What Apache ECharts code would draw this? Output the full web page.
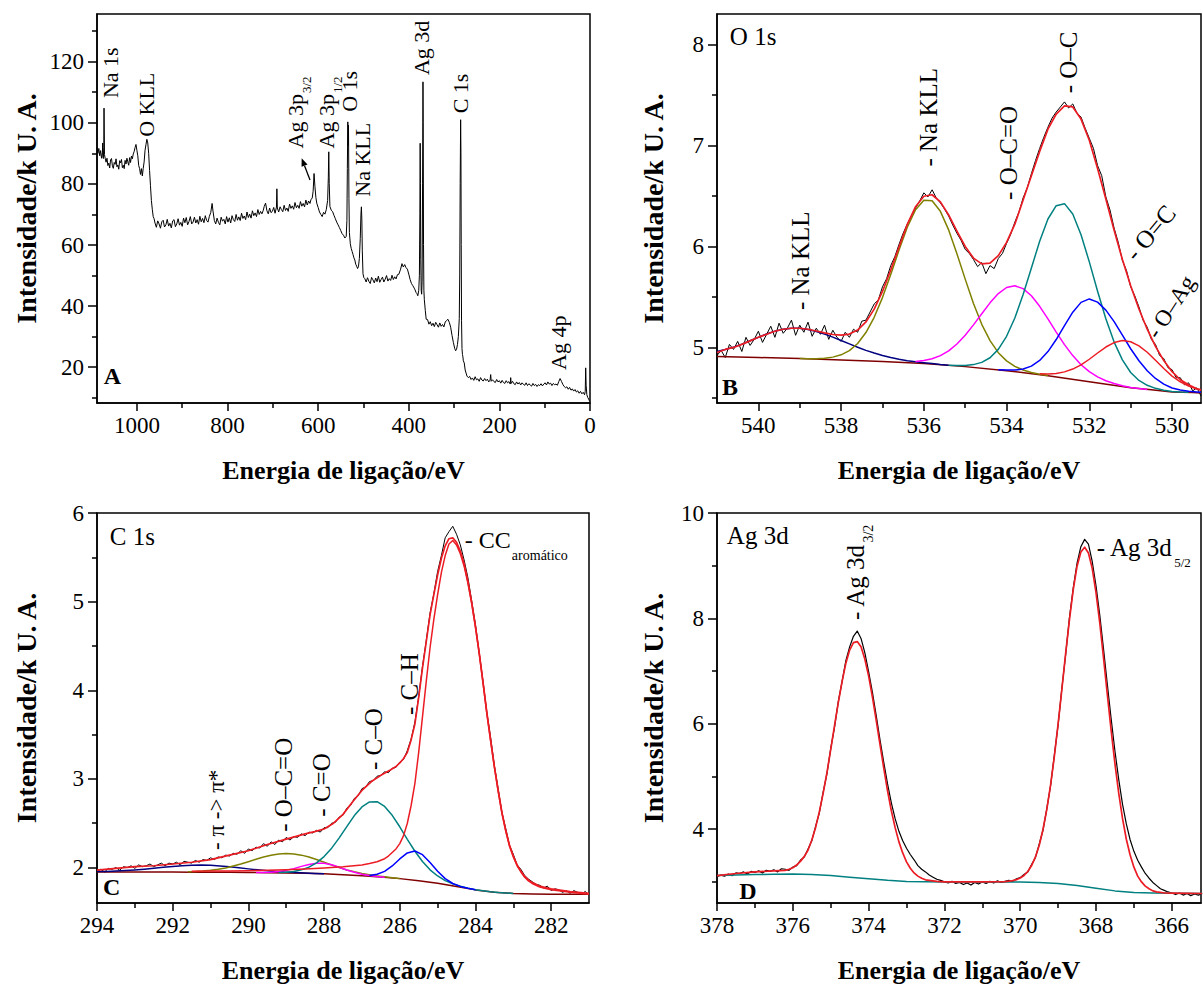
<!DOCTYPE html>
<html><head><meta charset="utf-8">
<script src="https://cdn.jsdelivr.net/npm/echarts@6.0.0/dist/echarts.min.js"></script>
<style>html,body{margin:0;padding:0;background:#fff}#c{width:1203px;height:984px}</style>
</head><body><div id="c"></div>
<script>
// ---------------- DATA ----------------
// Panel A: survey spectrum [binding energy eV, intensity k U.A.]
const surveyA = [
[1088,91.8],[1086,90.0],[1084,91.6],[1082,89.2],[1080,90.9],[1078,88.4],[1076,90.2],[1075.5,93.4],[1075,89.2],[1074,88.3],[1073,92.0],[1072.5,104.8],[1072,97.0],[1071.5,89.6],[1070,88.4],
[1068,87.1],[1066,88.4],[1064,86.0],[1062,86.8],[1060,85.2],[1058,87.9],[1056,88.3],[1054,85.9],[1052,85.1],[1050,87.0],[1048,86.4],[1046,88.2],[1044,85.6],[1042,86.2],[1040,84.8],[1038,87.6],[1036,86.9],[1034,88.0],[1032,85.3],[1030,86.1],[1028,85.0],[1026,87.7],[1024,86.5],[1022,88.4],[1020,87.2],[1018,86.1],[1016,88.6],[1014,87.0],[1012,89.1],[1010,88.2],[1008,89.8],
[1006,90.6],[1004,91.9],[1002,92.9],[1000,91.0],[998,89.2],[996,86.0],[994,85.0],[992,83.1],[990,85.0],[988,82.6],[986,85.1],[984,87.2],[982,91.0],[980,92.8],[978,94.6],[976,93.4],[974,90.0],[972,84.4],[970,79.4],[968,74.6],[966,71.7],[964,69.3],[962,68.6],
[960,67.2],[957,65.8],[954,67.9],[951,66.9],[948,65.5],[945,67.6],[942,68.1],[939,65.9],[936,66.6],[933,68.4],[930,66.2],[927,67.1],[924,65.6],[921,67.9],[918,68.3],[915,66.0],[912,66.9],[909,68.6],[906,66.5],[903,67.4],[900,66.1],[897,68.8],[894,67.3],[891,69.0],[888,66.6],[885,67.7],[882,69.3],[879,66.9],[876,67.5],[873,69.1],[870,67.2],[867,68.3],[864,66.8],[861,69.4],[858,67.6],[855,68.7],[852,67.3],[849,69.6],[846,68.0],[843,67.5],[840,69.4],[837,70.6],[834,73.6],[832,71.1],[829,68.0],
[826,66.9],[823,68.8],[820,67.4],[817,66.6],[814,69.1],[811,67.8],[808,68.4],[805,66.9],[802,69.3],[799,67.5],[796,68.9],[793,67.2],[790,69.6],[787,68.3],[784,67.7],[781,70.0],[778,68.1],[775,69.2],[772,68.0],[769,70.4],[766,68.7],[763,69.5],[760,68.3],[757,70.8],[754,69.0],[751,70.1],[748,68.8],[745,71.2],[742,69.6],[739,70.5],[736,69.3],[733,71.6],[730,70.0],[727,71.0],[724,70.2],[721,71.4],[719,72.6],[716,73.7],[713,71.2],[710,70.2],[707,72.1],[704,70.6],[701,71.0],[698,72.3],[695,70.4],[692,72.4],[691,78.4],[690,72.1],[687,70.8],[684,72.5],[681,71.6],[678,70.9],[675,73.0],[672,71.3],[669,72.1],[666,71.0],[663,73.4],[660,72.0],[657,72.8],[654,71.7],[651,73.9],[648,72.2],[645,73.0],[642,72.0],[639,74.2],[636,72.7],[633,73.6],[630,72.5],[627,74.7],[624,73.1],[621,74.4],[618,73.6],[616,74.8],[613,75.4],
[611,77.6],[609,83.4],[607,79.1],[605,75.6],[603,73.7],[600,72.3],[597,70.8],[594,70.0],[591,69.3],[588,70.7],[585,70.1],[582,71.6],[579,74.6],[577.5,82.0],[576.5,90.5],[575.5,80.1],[574,72.6],[571,71.4],[568,70.9],[565,69.7],[562,68.6],[559,67.5],[556,66.6],[553,65.7],[550,64.7],[547,63.7],[544,63.2],[541,62.3],[538,62.8],[536.5,68.0],[535.5,85.0],[534.5,100.3],[533.8,92.5],[533,99.2],[532,75.2],[531,64.1],[529,60.4],[527,58.9],[525,57.9],[523,56.9],[521,55.8],[519,55.1],[517,53.7],[515,53.1],[513,52.3],[511,52.9],[509,55.6],[507,62.1],[505.5,70.1],[504.5,72.5],[503.5,68.2],[502.5,58.1],[501,50.6],[499,49.3],[497,49.0],
[494,47.9],[491,49.3],[488,48.1],[485,47.4],[482,49.4],[479,48.6],[476,47.6],[473,49.2],[470,48.0],[467,49.8],[464,47.8],[461,48.7],[458,49.5],[455,47.9],[452,48.8],[449,50.0],[446,48.2],[443,49.0],[440,48.4],[437,50.1],[434,48.7],[431,49.6],[428,48.9],[425,50.3],[422,50.4],
[418,52.1],[415,53.9],[412,52.8],[409,53.6],[406,52.6],[403,52.1],[400,50.5],[397,48.7],[394,47.4],[391,46.7],[388,45.9],[386,45.3],[384,44.5],[382,44.1],[380,43.4],[378,45.1],[376.5,50.1],[375.5,70.2],[374.8,93.3],[374.2,80.1],[373.5,55.2],[372.5,45.1],[371.5,43.9],[370.5,48.1],[369.5,80.0],[368.6,113.4],[368.1,100.2],[367.4,60.1],[366.6,45.2],[365.6,42.1],[363.5,38.6],[361.5,35.7],
[358.5,35.6],[355.5,34.1],[352.5,34.9],[349.5,33.6],[346.5,34.4],[343.5,33.3],[340.5,34.7],[337.5,33.9],[334.5,33.1],[331.5,34.5],[328.5,33.4],[325.5,34.0],[322.5,33.2],[319.5,34.8],[316.5,35.3],[313.5,35.7],
[310.5,34.7],[307.5,33.1],[304.5,30.4],[301.5,28.1],[298.5,26.1],[296.5,25.4],[294.5,25.9],[292.5,27.4],[290.5,30.1],[288.5,35.9],[287.5,50.2],[286.5,80.1],[285.5,101.0],[284.8,90.2],[284.2,60.1],[283.5,35.2],[282.5,26.1],[281.5,24.2],[280.5,23.4],[279.5,22.1],[277.5,21.4],[275.5,19.1],[273.5,18.1],[271.5,17.1],
[268.5,16.6],[265.5,17.0],[262.5,16.0],[259.5,16.5],[256.5,15.7],[253.5,16.9],[250.5,15.9],[247.5,16.2],[244.5,15.4],[241.5,16.6],[238.5,15.8],[235.5,15.5],[232.5,16.3],[229.5,15.6],[226.5,16.1],[223.5,15.2],[220.5,15.8],[219.2,17.6],[218,15.4],[215,15.9],[212,15.3],[209,15.0],[206,16.0],[203,15.2],[200,15.6],[197,14.8],[194,15.7],[191,15.0],[188,14.7],[185,15.6],[182,14.9],[179,15.3],[176,14.5],[175,16.6],[174,14.7],[171,15.4],[168,14.6],[165,14.3],[162,15.2],[159,14.5],[156,15.0],[153,14.2],[150,14.9],[147,14.4],[144,14.1],[141,14.9],[138,14.0],[135,14.6],[132,14.2],[129,13.8],[126,14.7],[123,14.0],[120,14.4],[117,13.7],[114,14.3],[111,14.0],[108,14.6],[105,13.9],[102,14.5],[99,14.9],[96,14.2],[93,15.2],[90,14.5],[87,14.8],[84,14.0],[81,14.7],[78,14.3],[75,14.5],[72,14.1],[69,15.3],[66,16.3],[63,15.4],[60,14.4],[57,13.7],[54,13.3],[51,13.6],[48,12.8],[45,13.4],[42,12.5],[39,12.9],[36,12.2],[33,12.7],[30,11.9],[27,12.3],[24,11.5],[21,12.1],[18,11.3],[15,11.8],[12,11.0],[10.5,12.1],[9.5,19.8],[8.5,14.1],[7,11.0],[5,10.1],[3,9.6],[1.5,9.1],[0,8.8]
];

// Panel B: O 1s
const o1sData = [[541.0,4.92],[540.9,4.97],[540.8,4.90],[540.7,5.03],[540.6,4.98],[540.5,5.06],[540.4,4.96],[540.3,5.10],[540.2,5.02],[540.1,5.08],[540.0,5.16],[539.9,5.05],[539.8,5.13],[539.7,5.21],[539.6,5.10],[539.5,5.24],[539.4,5.14],[539.3,5.19],[539.2,5.27],[539.1,5.12],[539.0,5.22],[538.9,5.15],[538.8,5.25],[538.7,5.11],[538.6,5.19],[538.5,5.13],[538.4,5.22],[538.3,5.08],[538.2,5.17],[538.1,5.10],[538.0,5.06],[537.9,5.15],[537.8,5.10],[537.7,5.18],[537.6,5.15],[537.5,5.26],[537.4,5.27],[537.3,5.35],[537.2,5.43],[537.1,5.47],[537.0,5.60],[536.9,5.68],[536.8,5.81],[536.7,5.90],[536.6,6.02],[536.5,6.13],[536.4,6.22],[536.3,6.30],[536.2,6.38],[536.1,6.45],[536.0,6.53],[535.9,6.49],[535.8,6.56],[535.7,6.48],[535.6,6.43],[535.5,6.37],[535.4,6.30],[535.3,6.21],[535.2,6.13],[535.1,6.06],[535.0,5.97],[534.9,5.93],[534.8,5.87],[534.7,5.80],[534.6,5.84],[534.5,5.73],[534.4,5.81],[534.3,5.78],[534.2,5.88],[534.1,5.93],[534.0,6.03],[533.9,6.12],[533.8,6.24],[533.7,6.34],[533.6,6.48],[533.5,6.58],[533.4,6.72],[533.3,6.85],[533.2,6.97],[533.1,7.08],[533.0,7.18],[532.9,7.27],[532.8,7.33],[532.7,7.38],[532.6,7.43],[532.5,7.37],[532.4,7.41],[532.3,7.32],[532.2,7.28],[532.1,7.17],[532.0,7.07],[531.9,6.97],[531.8,6.80],[531.7,6.70],[531.6,6.49],[531.5,6.36],[531.4,6.18],[531.3,6.04],[531.2,5.86],[531.1,5.76],[531.0,5.60],[530.9,5.51],[530.8,5.40],[530.7,5.27],[530.6,5.20],[530.5,5.08],[530.4,5.03],[530.3,4.92],[530.2,4.89],[530.1,4.80],[530.0,4.78],[529.9,4.70],[529.8,4.70],[529.7,4.63],[529.6,4.65],[529.5,4.57],[529.4,4.60],[529.3,4.52]];
const o1sEnvelope = [[541.0,4.95],[540.8,4.98],[540.6,5.00],[540.4,5.03],[540.2,5.065],[540.0,5.10],[539.8,5.13],[539.6,5.16],[539.4,5.18],[539.2,5.19],[539.0,5.19],[538.8,5.18],[538.6,5.163],[538.4,5.144],[538.2,5.128],[538.0,5.121],[537.8,5.132],[537.6,5.172],[537.4,5.252],[537.2,5.379],[537.0,5.554],[536.8,5.766],[536.6,5.994],[536.4,6.218],[536.2,6.393],[536.0,6.496],[535.8,6.511],[535.6,6.441],[535.4,6.311],[535.2,6.152],[535.0,6.000],[534.8,5.884],[534.6,5.827],[534.4,5.834],[534.2,5.908],[534.0,6.04],[533.8,6.22],[533.6,6.46],[533.4,6.70],[533.2,6.94],[533.0,7.16],[532.8,7.31],[532.6,7.39],[532.4,7.38],[532.2,7.26],[532.0,7.05],[531.8,6.77],[531.6,6.47],[531.4,6.16],[531.2,5.87],[531.0,5.61],[530.8,5.38],[530.6,5.18],[530.4,5.01],[530.2,4.87],[530.0,4.76],[529.8,4.68],[529.6,4.63],[529.4,4.59],[529.3,4.58]];
const o1sBackground = [[541,4.91],[540,4.90],[539,4.89],[538,4.875],[537,4.86],[536,4.84],[535,4.81],[534,4.77],[533,4.72],[532,4.66],[531,4.60],[530.5,4.58],[530,4.56],[529.5,4.555],[529.3,4.55]];
const o1sNaKLLsat = [[541.0,4.959],[540.8,4.979],[540.6,5.003],[540.4,5.033],[540.2,5.066],[540.0,5.100],[539.8,5.133],[539.6,5.161],[539.4,5.181],[539.2,5.190],[539.0,5.189],[538.8,5.177],[538.6,5.158],[538.4,5.132],[538.2,5.102],[538.0,5.069],[537.8,5.035],[537.6,5.002],[537.4,4.971],[537.2,4.944],[537.0,4.921],[536.8,4.900],[536.6,4.883],[536.4,4.869],[536.2,4.858],[536.0,4.849],[535.8,4.840],[535.6,4.831],[535.4,4.824]];
const o1sNaKLL = [[539.0,4.891],[538.8,4.889],[538.6,4.889],[538.4,4.893],[538.2,4.904],[538.0,4.927],[537.8,4.969],[537.6,5.039],[537.4,5.147],[537.2,5.298],[537.0,5.493],[536.8,5.722],[536.6,5.963],[536.4,6.189],[536.2,6.363],[536.0,6.457],[535.8,6.451],[535.6,6.347],[535.4,6.163],[535.2,5.927],[535.0,5.676],[534.8,5.435],[534.6,5.229],[534.4,5.067],[534.2,4.948],[534.0,4.867],[533.8,4.812],[533.6,4.776],[533.4,4.752],[533.2,4.735],[533.0,4.722]];
const o1sOCO = [[536.2,4.860],[536.0,4.870],[535.8,4.888],[535.6,4.919],[535.4,4.966],[535.2,5.034],[535.0,5.121],[534.8,5.223],[534.6,5.334],[534.4,5.441],[534.2,5.533],[534.0,5.593],[533.8,5.610],[533.6,5.582],[533.4,5.511],[533.2,5.407],[533.0,5.283],[532.8,5.152],[532.6,5.028],[532.4,4.919],[532.2,4.829],[532.0,4.760],[531.8,4.708],[531.6,4.670],[531.4,4.643],[531.2,4.621],[531.0,4.604],[530.8,4.594],[530.6,4.584]];
const o1sOC = [[535.4,4.824],[535.2,4.821],[535.0,4.822],[534.8,4.830],[534.6,4.852],[534.4,4.898],[534.2,4.981],[534.0,5.110],[533.8,5.291],[533.6,5.523],[533.4,5.787],[533.2,6.050],[533.0,6.271],[532.8,6.403],[532.6,6.423],[532.4,6.320],[532.2,6.116],[532.0,5.847],[531.8,5.556],[531.6,5.283],[531.4,5.053],[531.2,4.877],[531.0,4.752],[530.8,4.673],[530.6,4.625],[530.4,4.595],[530.2,4.576],[530.0,4.563],[529.8,4.558],[529.6,4.556]];
const o1sOdC = [[534.2,4.780],[534.0,4.777],[533.8,4.776],[533.6,4.787],[533.4,4.815],[533.2,4.871],[533.0,4.959],[532.8,5.078],[532.6,5.216],[532.4,5.349],[532.2,5.446],[532.0,5.480],[531.8,5.448],[531.6,5.369],[531.4,5.255],[531.2,5.122],[531.0,4.987],[530.8,4.868],[530.6,4.769],[530.4,4.693],[530.2,4.637],[530.0,4.598],[529.8,4.578],[529.6,4.566],[529.4,4.559],[529.3,4.556]];
const o1sOAg = [[533.2,4.739],[533.0,4.738],[532.8,4.743],[532.6,4.758],[532.4,4.786],[532.2,4.828],[532.0,4.883],[531.8,4.945],[531.6,5.004],[531.4,5.048],[531.2,5.068],[531.0,5.056],[530.8,5.016],[530.6,4.952],[530.4,4.873],[530.2,4.791],[530.0,4.716],[529.8,4.660],[529.6,4.618],[529.4,4.589],[529.3,4.578]];

// Panel C: C 1s
const c1sData = [[294.0,1.96],[293.9,1.98],[293.8,1.95],[293.7,1.99],[293.6,1.98],[293.5,2.00],[293.4,1.97],[293.3,2.01],[293.2,2.00],[293.1,2.02],[293.0,1.99],[292.9,2.03],[292.8,2.01],[292.7,2.02],[292.6,2.04],[292.5,2.01],[292.4,2.03],[292.3,2.05],[292.2,2.02],[292.1,2.05],[292.0,2.04],[291.9,2.06],[291.8,2.03],[291.7,2.07],[291.6,2.06],[291.5,2.05],[291.4,2.08],[291.3,2.06],[291.2,2.09],[291.1,2.08],[291.0,2.11],[290.9,2.09],[290.8,2.12],[290.7,2.11],[290.6,2.14],[290.5,2.13],[290.4,2.16],[290.3,2.15],[290.2,2.19],[290.1,2.16],[290.0,2.21],[289.9,2.19],[289.8,2.23],[289.7,2.22],[289.6,2.27],[289.5,2.24],[289.4,2.29],[289.3,2.26],[289.2,2.31],[289.1,2.29],[289.0,2.34],[288.9,2.31],[288.8,2.35],[288.7,2.34],[288.6,2.38],[288.5,2.36],[288.4,2.40],[288.3,2.39],[288.2,2.42],[288.1,2.40],[288.0,2.45],[287.9,2.45],[287.8,2.50],[287.7,2.51],[287.6,2.57],[287.5,2.59],[287.4,2.67],[287.3,2.70],[287.2,2.78],[287.1,2.81],[287.0,2.89],[286.9,2.91],[286.8,2.97],[286.7,2.98],[286.6,3.03],[286.5,3.04],[286.4,3.08],[286.3,3.07],[286.2,3.12],[286.1,3.13],[286.0,3.19],[285.9,3.22],[285.8,3.32],[285.7,3.45],[285.6,3.64],[285.5,3.93],[285.4,4.27],[285.3,4.56],[285.2,4.87],[285.1,5.09],[285.0,5.34],[284.9,5.52],[284.8,5.72],[284.7,5.79],[284.6,5.85],[284.5,5.76],[284.4,5.64],[284.3,5.47],[284.2,5.27],[284.1,5.01],[284.0,4.74],[283.9,4.42],[283.8,4.10],[283.7,3.75],[283.6,3.47],[283.5,3.15],[283.4,2.89],[283.3,2.62],[283.2,2.44],[283.1,2.25],[283.0,2.15],[282.9,2.03],[282.8,1.98],[282.7,1.91],[282.6,1.87],[282.5,1.84],[282.4,1.81],[282.3,1.80],[282.2,1.77],[282.1,1.79],[282.0,1.74],[281.9,1.76],[281.8,1.75],[281.7,1.72],[281.6,1.74],[281.5,1.71],[281.4,1.74],[281.3,1.72],[281.2,1.70],[281.1,1.73],[281.0,1.69]];
const c1sEnvelope = [[294.0,1.97],[293.5,1.99],[293.0,2.01],[292.5,2.02],[292.0,2.04],[291.5,2.06],[291.0,2.09],[290.5,2.14],[290.0,2.19],[289.5,2.26],[289.0,2.32],[288.5,2.38],[288.25,2.405],[288.0,2.435],[287.75,2.50],[287.5,2.60],[287.25,2.74],[287.0,2.87],[286.75,2.97],[286.5,3.04],[286.25,3.10],[286.1,3.14],[286.0,3.18],[285.9,3.23],[285.8,3.30],[285.7,3.44],[285.6,3.62],[285.5,3.92],[285.4,4.25],[285.3,4.55],[285.2,4.85],[285.1,5.08],[285.0,5.30],[284.9,5.49],[284.8,5.63],[284.7,5.71],[284.6,5.72],[284.5,5.67],[284.4,5.57],[284.3,5.43],[284.2,5.23],[284.1,4.99],[284.0,4.72],[283.9,4.42],[283.8,4.09],[283.7,3.75],[283.6,3.44],[283.5,3.14],[283.4,2.87],[283.3,2.62],[283.2,2.42],[283.1,2.25],[283.0,2.13],[282.9,2.03],[282.8,1.96],[282.7,1.90],[282.6,1.86],[282.5,1.83],[282.4,1.81],[282.3,1.79],[282.2,1.78],[282.0,1.76],[281.5,1.73],[281.0,1.71]];
const c1sBackground = [[294,1.950],[293.5,1.950],[293,1.950],[292.5,1.950],[292,1.949],[291.5,1.948],[291,1.947],[290.5,1.946],[290,1.944],[289.5,1.942],[289,1.939],[288.5,1.935],[288,1.929],[287.5,1.920],[287,1.908],[286.5,1.893],[286,1.875],[285.5,1.852],[285,1.822],[284.5,1.785],[284,1.748],[283.5,1.722],[283,1.708],[282.5,1.702],[282,1.700],[281,1.700]];
const c1sPiPi = [[294.0,1.954],[293.75,1.956],[293.5,1.960],[293.25,1.966],[293.0,1.973],[292.75,1.982],[292.5,1.993],[292.25,2.003],[292.0,2.013],[291.75,2.021],[291.5,2.026],[291.25,2.028],[291.0,2.025],[290.75,2.018],[290.5,2.009],[290.25,1.997],[290.0,1.985],[289.75,1.974],[289.5,1.964],[289.25,1.955],[289.0,1.948],[288.75,1.943],[288.5,1.938],[288.25,1.934],[288.0,1.930]];
const c1sOCO = [[291.6,1.953],[291.4,1.956],[291.2,1.961],[291.0,1.969],[290.8,1.981],[290.6,1.996],[290.4,2.017],[290.2,2.040],[290.0,2.066],[289.8,2.093],[289.6,2.118],[289.4,2.139],[289.2,2.154],[289.0,2.159],[288.8,2.153],[288.6,2.140],[288.4,2.118],[288.2,2.090],[288.0,2.059],[287.8,2.029],[287.6,2.000],[287.4,1.973],[287.2,1.952],[287.0,1.933],[286.8,1.918],[286.6,1.906],[286.4,1.895],[286.2,1.885],[286.0,1.877]];
const c1sCdO = [[289.8,1.944],[289.6,1.945],[289.4,1.948],[289.2,1.955],[289.0,1.969],[288.8,1.988],[288.6,2.013],[288.4,2.035],[288.2,2.049],[288.0,2.048],[287.8,2.031],[287.6,2.004],[287.4,1.973],[287.2,1.946],[287.0,1.925],[286.8,1.910],[286.6,1.899],[286.4,1.890]];
const c1sCO = [[289.2,1.944],[289.0,1.948],[288.8,1.956],[288.6,1.974],[288.4,2.004],[288.2,2.053],[288.0,2.124],[287.8,2.219],[287.6,2.335],[287.4,2.462],[287.2,2.586],[287.0,2.684],[286.8,2.740],[286.6,2.743],[286.4,2.689],[286.2,2.589],[286.0,2.460],[285.8,2.318],[285.6,2.184],[285.4,2.068],[285.2,1.974],[285.0,1.905],[284.8,1.853],[284.6,1.816],[284.4,1.790],[284.2,1.768],[284.0,1.750],[283.8,1.738],[283.6,1.727],[283.4,1.719],[283.2,1.713],[283.0,1.708]];
const c1sCH = [[286.8,1.911],[286.6,1.924],[286.4,1.957],[286.2,2.018],[286.0,2.097],[285.8,2.165],[285.6,2.187],[285.4,2.145],[285.2,2.056],[285.0,1.958],[284.8,1.875],[284.6,1.820],[284.4,1.787],[284.2,1.766],[284.0,1.749]];
const c1sCC = [[291.5,1.958],[291.0,1.960],[290.5,1.962],[290.0,1.965],[289.5,1.969],[289.0,1.975],[288.5,1.984],[288.0,1.995],[287.5,2.010],[287.0,2.030],[286.8,2.045],[286.6,2.065],[286.4,2.10],[286.3,2.13],[286.2,2.17],[286.1,2.21],[286.0,2.27],[285.9,2.36],[285.8,2.50],[285.7,2.70],[285.6,2.95],[285.5,3.30],[285.4,3.70],[285.3,4.10],[285.2,4.48],[285.1,4.80],[285.0,5.08],[284.9,5.33],[284.8,5.52],[284.7,5.65],[284.6,5.69],[284.5,5.64],[284.4,5.54],[284.3,5.40],[284.2,5.21],[284.1,4.98],[284.0,4.71],[283.9,4.41],[283.8,4.08],[283.7,3.74],[283.6,3.43],[283.5,3.13],[283.4,2.86],[283.3,2.61],[283.2,2.41],[283.1,2.24],[283.0,2.12],[282.9,2.02],[282.8,1.95],[282.7,1.89],[282.6,1.85],[282.5,1.82],[282.4,1.80],[282.3,1.78],[282.2,1.77],[282.0,1.75],[281.5,1.72],[281.0,1.70]];

// Panel D: Ag 3d
const ag3dData = [[378.0,3.10],[377.9,3.13],[377.8,3.11],[377.7,3.15],[377.6,3.12],[377.5,3.17],[377.4,3.16],[377.3,3.19],[377.2,3.15],[377.1,3.20],[377.0,3.18],[376.9,3.21],[376.8,3.17],[376.7,3.22],[376.6,3.20],[376.5,3.23],[376.4,3.19],[376.3,3.25],[376.2,3.24],[376.1,3.22],[376.0,3.28],[375.9,3.31],[375.8,3.41],[375.7,3.47],[375.6,3.62],[375.5,3.78],[375.4,4.05],[375.3,4.31],[375.2,4.70],[375.1,5.05],[375.0,5.53],[374.9,5.93],[374.8,6.42],[374.7,6.80],[374.6,7.20],[374.5,7.46],[374.4,7.66],[374.3,7.76],[374.2,7.62],[374.1,7.35],[374.0,6.99],[373.9,6.60],[373.8,6.16],[373.7,5.70],[373.6,5.27],[373.5,4.86],[373.4,4.50],[373.3,4.20],[373.2,3.96],[373.1,3.78],[373.0,3.64],[372.9,3.52],[372.8,3.42],[372.7,3.31],[372.6,3.24],[372.5,3.19],[372.4,3.13],[372.3,3.09],[372.2,3.05],[372.1,3.03],[372.0,3.00],[371.9,2.98],[371.8,3.01],[371.7,2.97],[371.6,2.99],[371.5,2.95],[371.4,2.98],[371.3,2.94],[371.2,2.99],[371.1,2.96],[371.0,3.00],[370.9,2.97],[370.8,3.01],[370.7,2.98],[370.6,3.02],[370.5,2.99],[370.4,3.01],[370.3,3.03],[370.2,3.01],[370.1,3.06],[370.0,3.08],[369.9,3.14],[369.8,3.19],[369.7,3.33],[369.6,3.46],[369.5,3.71],[369.4,3.98],[369.3,4.38],[369.2,4.82],[369.1,5.40],[369.0,5.98],[368.9,6.68],[368.8,7.32],[368.7,8.02],[368.6,8.58],[368.5,9.05],[368.4,9.36],[368.3,9.50],[368.2,9.41],[368.1,9.08],[368.0,8.62],[367.9,8.06],[367.8,7.41],[367.7,6.74],[367.6,6.09],[367.5,5.48],[367.4,4.94],[367.3,4.47],[367.2,4.10],[367.1,3.80],[367.0,3.58],[366.9,3.41],[366.8,3.28],[366.7,3.16],[366.6,3.07],[366.5,2.99],[366.4,2.93],[366.3,2.87],[366.2,2.84],[366.1,2.81],[366.0,2.79],[365.9,2.76],[365.8,2.79],[365.7,2.75],[365.6,2.78],[365.5,2.74],[365.4,2.77],[365.3,2.75],[365.2,2.78]];
const ag3dEnvelope = [[378.0,3.12],[377.5,3.16],[377.0,3.19],[376.5,3.21],[376.2,3.22],[376.1,3.24],[376.0,3.27],[375.9,3.32],[375.8,3.39],[375.7,3.48],[375.6,3.60],[375.5,3.79],[375.4,4.03],[375.3,4.33],[375.2,4.68],[375.1,5.07],[375.0,5.51],[374.9,5.96],[374.8,6.40],[374.7,6.80],[374.6,7.15],[374.5,7.40],[374.4,7.54],[374.3,7.56],[374.2,7.46],[374.1,7.23],[374.0,6.91],[373.9,6.51],[373.8,6.07],[373.7,5.61],[373.6,5.16],[373.5,4.73],[373.4,4.35],[373.3,4.03],[373.2,3.76],[373.1,3.55],[373.0,3.38],[372.9,3.26],[372.8,3.17],[372.7,3.11],[372.6,3.07],[372.5,3.04],[372.4,3.03],[372.2,3.01],[372.0,3.00],[371.0,3.00],[370.4,3.007],[370.3,3.014],[370.2,3.025],[370.1,3.044],[370.0,3.075],[369.9,3.123],[369.8,3.198],[369.7,3.31],[369.6,3.47],[369.5,3.69],[369.4,3.99],[369.3,4.37],[369.2,4.83],[369.1,5.38],[369.0,6.00],[368.9,6.66],[368.8,7.34],[368.7,7.98],[368.6,8.55],[368.5,8.99],[368.4,9.26],[368.3,9.35],[368.2,9.24],[368.1,8.95],[368.0,8.49],[367.9,7.91],[367.8,7.24],[367.7,6.55],[367.6,5.87],[367.5,5.24],[367.4,4.68],[367.3,4.20],[367.2,3.81],[367.1,3.51],[367.0,3.28],[366.9,3.11],[366.8,3.00],[366.7,2.92],[366.6,2.87],[366.5,2.83],[366.4,2.81],[366.3,2.80],[366.2,2.79],[366.0,2.786],[365.5,2.782],[365.2,2.78]];
const ag3dBackground = [[378,3.12],[377.5,3.13],[377,3.14],[376.5,3.145],[376,3.15],[375.5,3.14],[375,3.12],[374.5,3.09],[374,3.06],[373.5,3.03],[373,3.01],[372.5,3.003],[372,3.0],[370,3.0],[369.5,2.99],[369,2.97],[368.5,2.93],[368,2.88],[367.5,2.83],[367,2.80],[366.5,2.79],[366,2.785],[365.2,2.78]];

// Axis extents and tick values
const xRange = [[0,1088],[529.3,541],[281,294],[365.23,378]];
const yRange = [[8.3,135.6],[4.45,8.3],[1.6,6.0],[2.6,10.0]];
const xMajor = [[1000,800,600,400,200,0],[540,538,536,534,532,530],[294,292,290,288,286,284,282],[378,376,374,372,370,368,366]];
const xMinor = [[900,700,500,300,100],[539,537,535,533,531],[293,291,289,287,285,283],[377,375,373,371,369,367]];
const yMajor = [[20,40,60,80,100,120],[5,6,7,8],[2,3,4,5,6],[4,6,8,10]];
const yMinor = [[10,30,50,70,90,110,130],[4.5,5.5,6.5,7.5],[2.5,3.5,4.5,5.5],[3,5,7,9]];
const xTitle = 'Energia de ligação/eV';
const yTitle = 'Intensidade/k U. A.';

// Peak labels (anchored in data coordinates)
const notes = [
 {p:0,t:'Na 1s',x:1059,y:108.1,r:90,s:22},
 {p:0,t:'O KLL',x:978,y:95.4,r:90,s:22},
 {p:0,t:'Ag 3p',sub:'3/2',x:647,y:91.6,r:90,s:22,ss:13,off:10},
 {p:0,t:'Ag 3p',sub:'1/2',x:580,y:91.6,r:90,s:22,ss:13,off:10},
 {p:0,t:'O 1s',x:530,y:103.6,r:90,s:22},
 {p:0,t:'Na KLL',x:502,y:75.8,r:90,s:22},
 {p:0,t:'Ag 3d',x:371,y:115.6,r:90,s:22},
 {p:0,t:'C 1s',x:285,y:103.1,r:90,s:22},
 {p:0,t:'Ag 4p',x:70,y:19.1,r:90,s:22},
 {p:0,t:'A',x:1073,y:17.1,r:0,s:24,b:true},
 {p:1,t:'O 1s',x:540.69,y:8.075,r:0,s:25},
 {p:1,t:'- Na KLL',x:538.99,y:5.37,r:90,s:25},
 {p:1,t:'- Na KLL',x:535.89,y:6.79,r:90,s:25},
 {p:1,t:'- O–C=O',x:533.96,y:6.46,r:90,s:25},
 {p:1,t:'- O–C',x:532.51,y:7.515,r:90,s:25},
 {p:1,t:'- O=C',x:531.02,y:5.895,r:50,s:25},
 {p:1,t:'- O–Ag',x:530.50,y:5.113,r:57,s:23},
 {p:1,t:'B',x:540.88,y:4.613,r:0,s:24,b:true},
 {p:2,t:'C 1s',x:293.66,y:5.74,r:0,s:25},
 {p:2,t:'- π -> π*',x:290.84,y:2.198,r:90,s:23},
 {p:2,t:'- O–C=O',x:289.08,y:2.404,r:90,s:25},
 {p:2,t:'- C=O',x:288.06,y:2.574,r:90,s:25},
 {p:2,t:'- C–O',x:286.70,y:3.10,r:90,s:25},
 {p:2,t:'- C–H',x:285.73,y:3.721,r:90,s:25},
 {p:2,t:'- CC',sub:'aromático',x:284.28,y:5.684,r:0,s:24,ss:14,off:14},
 {p:2,t:'C',x:293.84,y:1.786,r:0,s:24,b:true},
 {p:3,t:'Ag 3d',x:377.74,y:9.564,r:0,s:25},
 {p:3,t:'- Ag 3d',sub:'3/2',x:374.31,y:7.97,r:90,s:25,ss:14,off:11.7},
 {p:3,t:'- Ag 3d',sub:'5/2',x:367.98,y:9.33,r:0,s:25,ss:13,off:14},
 {p:3,t:'D',x:377.41,y:2.83,r:0,s:24,b:true}
];
const arrowA = {tail:[617.9,81.3], head:[636.3,88.4]};

// ---------------- STYLE / LAYOUT ----------------
const FONT = 'Liberation Serif';
const RED='#ec1c24', NAVY='#000080', OLIVE='#808000', MAG='#ff00ff', TEAL='#008080', BLUE='#0000ff', BROWN='#800000';
const layout = [
 {left:97, top:14, width:493, height:389, yGap:57, xGap:54},
 {left:717, top:14, width:484, height:389, yGap:50, xGap:54},
 {left:97, top:513, width:492, height:390, yGap:57, xGap:54},
 {left:717, top:513, width:484, height:390, yGap:50, xGap:54}
];
const seriesDefs = [
 [ {d:surveyA,c:'#000',w:1} ],
 [ {d:o1sData,c:'#000',w:1}, {d:o1sBackground,c:BROWN,w:1.5}, {d:o1sNaKLLsat,c:NAVY,w:1.5},
   {d:o1sNaKLL,c:OLIVE,w:1.5}, {d:o1sOCO,c:MAG,w:1.5}, {d:o1sOC,c:TEAL,w:1.5},
   {d:o1sOdC,c:BLUE,w:1.5}, {d:o1sOAg,c:RED,w:1.5}, {d:o1sEnvelope,c:RED,w:1.7} ],
 [ {d:c1sData,c:'#000',w:1}, {d:c1sBackground,c:BROWN,w:1.5}, {d:c1sPiPi,c:NAVY,w:1.5},
   {d:c1sOCO,c:OLIVE,w:1.5}, {d:c1sCdO,c:MAG,w:1.5}, {d:c1sCO,c:TEAL,w:1.5},
   {d:c1sCH,c:BLUE,w:1.5}, {d:c1sCC,c:RED,w:1.5}, {d:c1sEnvelope,c:RED,w:1.7} ],
 [ {d:ag3dData,c:'#000',w:1.2}, {d:ag3dBackground,c:TEAL,w:1.5}, {d:ag3dEnvelope,c:RED,w:1.7} ]
];

const grids=[], xAxes=[], yAxes=[], series=[];
layout.forEach((L,p)=>{
  grids.push({left:L.left, top:L.top, width:L.width, height:L.height, show:true, borderColor:'#000', borderWidth:1.5, backgroundColor:'transparent', outerBoundsMode:'none', containLabel:false});
  const tick = (vals,len)=>({show:true, inside:false, length:len, lineStyle:{color:'#000',width:1.5}, customValues:vals});
  xAxes.push({type:'value', gridIndex:p, min:xRange[p][0], max:xRange[p][1], inverse:true, position:'bottom', scale:true,
    axisLine:{show:true,onZero:false,lineStyle:{color:'#000',width:1.5}}, axisTick:tick(xMajor[p],8),
    axisLabel:{show:true, margin:11, fontSize:23, fontFamily:FONT, color:'#000', customValues:xMajor[p], formatter:v=>String(v)},
    splitLine:{show:false}, name:xTitle, nameLocation:'middle', nameGap:L.xGap,
    nameTextStyle:{fontFamily:FONT, fontSize:26, fontWeight:'bold', color:'#000'}});
  xAxes.push({type:'value', gridIndex:p, min:xRange[p][0], max:xRange[p][1], inverse:true, position:'bottom', scale:true,
    axisLine:{show:false,onZero:false}, axisTick:tick(xMinor[p],5), axisLabel:{show:false}, splitLine:{show:false}});
  yAxes.push({type:'value', gridIndex:p, min:yRange[p][0], max:yRange[p][1], position:'left', scale:true,
    axisLine:{show:true,onZero:false,lineStyle:{color:'#000',width:1.5}}, axisTick:tick(yMajor[p],9),
    axisLabel:{show:true, margin:13, fontSize:23, fontFamily:FONT, color:'#000', customValues:yMajor[p], formatter:v=>String(v)},
    splitLine:{show:false}, name:yTitle, nameLocation:'middle', nameGap:L.yGap,
    nameTextStyle:{fontFamily:FONT, fontSize:28, fontWeight:'bold', color:'#000'}});
  yAxes.push({type:'value', gridIndex:p, min:yRange[p][0], max:yRange[p][1], position:'left', scale:true,
    axisLine:{show:false,onZero:false}, axisTick:tick(yMinor[p],5), axisLabel:{show:false}, splitLine:{show:false}});
  seriesDefs[p].forEach(sd=>{
    series.push({type:'line', xAxisIndex:p*2, yAxisIndex:p*2, data:sd.d, symbol:'none', showSymbol:false, smooth:false,
      lineStyle:{color:sd.c, width:sd.w, join:'round'}, itemStyle:{color:sd.c}, silent:true, animation:false, emphasis:{disabled:true}, clip:true});
  });
});

const chart = echarts.init(document.getElementById('c'), null, {renderer:'svg', width:1203, height:984});
chart.setOption({animation:false, backgroundColor:'#fff', textStyle:{fontFamily:FONT}, grid:grids, xAxis:xAxes, yAxis:yAxes, series:series});

function toPx(p, v){ return chart.convertToPixel({xAxisIndex:p*2, yAxisIndex:p*2}, v); }
function makeNote(n){
  const pt = toPx(n.p, [n.x, n.y]);
  const th = (n.r||0)*Math.PI/180;
  const fw = n.b ? 'bold' : 'normal';
  const style = {fill:'#000', fontFamily:FONT, fontSize:n.s, fontWeight:fw, align:'left', verticalAlign:'middle'};
  let x = pt[0], y = pt[1];
  if (n.sub){
    const ss = n.ss||14, h = n.s+2;
    style.text = '{m|'+n.t+'}{s|'+n.sub+'}';
    style.verticalAlign = 'top';
    style.rich = {
      m:{fill:'#000', fontFamily:FONT, fontSize:n.s, fontWeight:fw, lineHeight:h, verticalAlign:'top'},
      s:{fill:'#000', fontFamily:FONT, fontSize:ss, lineHeight:ss, verticalAlign:'top', padding:[h/2+n.off-ss/2,0,0,1]}
    };
    x += -(h/2)*Math.sin(th);
    y += -(h/2)*Math.cos(th);
  } else {
    style.text = n.t;
  }
  return {type:'text', x:x, y:y, rotation:th, style:style, z:100, silent:true};
}
const els = notes.map(makeNote);
(function(){
  const h = toPx(0, arrowA.head), t = toPx(0, arrowA.tail);
  const dx=h[0]-t[0], dy=h[1]-t[1], Ln=Math.hypot(dx,dy), ux=dx/Ln, uy=dy/Ln;
  const bx=h[0]-ux*8, by=h[1]-uy*8;
  els.push({type:'line', shape:{x1:t[0],y1:t[1],x2:bx,y2:by}, style:{stroke:'#000',lineWidth:1.3}, z:100, silent:true});
  els.push({type:'polygon', shape:{points:[[h[0],h[1]],[bx-uy*3.2,by+ux*3.2],[bx+uy*3.2,by-ux*3.2]]}, style:{fill:'#000'}, z:100, silent:true});
})();
chart.setOption({graphic:els});
</script></body></html>
